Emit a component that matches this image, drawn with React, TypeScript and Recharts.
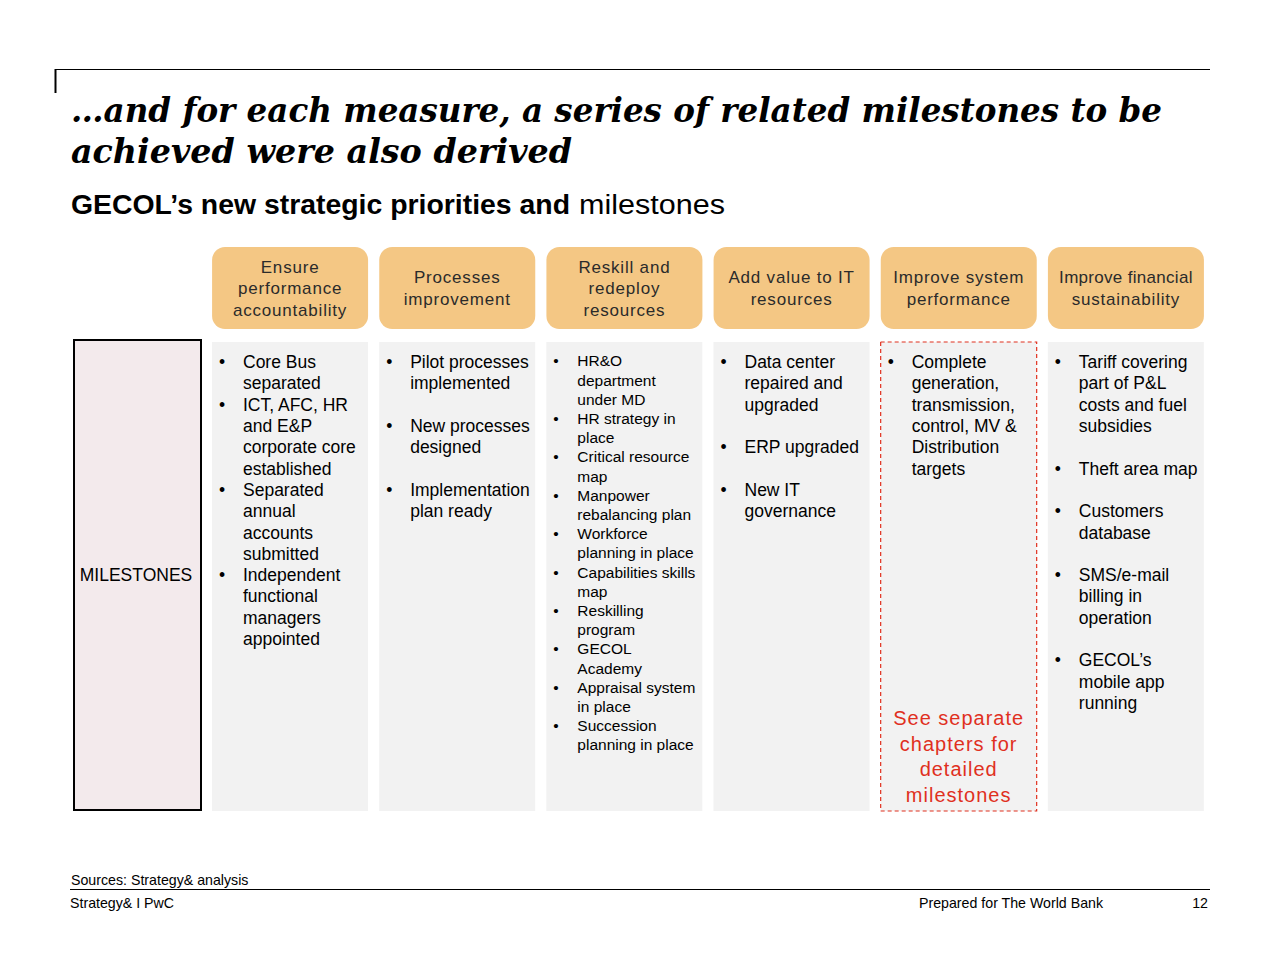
import React from 'react';
import { BarChart, Bar, XAxis, YAxis } from 'recharts';

// ---- content ----
const titleLines = [
  '\u2026and for each measure, a series of related milestones to be',
  'achieved were also derived',
];
const subtitleBold = 'GECOL\u2019s new strategic priorities and';
const subtitleRegular = 'milestones';
const rowLabel = 'MILESTONES';

const priorities = [
  'Ensure\nperformance\naccountability',
  'Processes\nimprovement',
  'Reskill and\nredeploy\nresources',
  'Add value to IT\nresources',
  'Improve system\nperformance',
  'Improve financial\nsustainability',
];

const milestones1 = [
  'Core Bus\nseparated',
  'ICT, AFC, HR\nand E&P\ncorporate core\nestablished',
  'Separated\nannual\naccounts\nsubmitted',
  'Independent\nfunctional\nmanagers\nappointed',
];
const milestones2 = ['Pilot processes\nimplemented', 'New processes\ndesigned', 'Implementation\nplan ready'];
const milestones3 = [
  'HR&O\ndepartment\nunder MD',
  'HR strategy in\nplace',
  'Critical resource\nmap',
  'Manpower\nrebalancing plan',
  'Workforce\nplanning in place',
  'Capabilities skills\nmap',
  'Reskilling\nprogram',
  'GECOL\nAcademy',
  'Appraisal system\nin place',
  'Succession\nplanning in place',
];
const milestones4 = ['Data center\nrepaired and\nupgraded', 'ERP upgraded', 'New IT\ngovernance'];
const milestones5 = ['Complete\ngeneration,\ntransmission,\ncontrol, MV &\nDistribution\ntargets'];
const milestones6 = [
  'Tariff covering\npart of P&L\ncosts and fuel\nsubsidies',
  'Theft area map',
  'Customers\ndatabase',
  'SMS/e-mail\nbilling in\noperation',
  'GECOL\u2019s\nmobile app\nrunning',
];
const milestoneLists = [milestones1, milestones2, milestones3, milestones4, milestones5, milestones6];
const spacedColumns = [false, true, false, true, false, true];
const seeSeparateNote = 'See separate\nchapters for\ndetailed\nmilestones';
const noteColumn = 4;

const sourceText = 'Sources: Strategy& analysis';
const footerLeft = 'Strategy& I PwC';
const footerMid = 'Prepared for The World Bank';
const pageNumber = '12';

const rows = priorities.map((p, i) => ({ name: p, idx: i, full: 1 }));

// ---- styles ----
const SANS = '"Liberation Sans", Arial, Helvetica, sans-serif';
const ORANGE = '#f4c784';
const GREY = '#f2f2f2';
const RED = '#e0301e';
const TEXT = '#000000';

const HeaderTick = (props: any) => {
  const { payload } = props;
  const cx = payload.coordinate;
  const lines = String(payload.value).split('\n');
  const w = 156;
  const top = 247;
  const h = 82;
  const lh = 21.5;
  const cy = top + h / 2;
  const start = cy - ((lines.length - 1) * lh) / 2;
  return (
    <g>
      <rect x={cx - w / 2} y={top} width={w} height={h} rx={13} ry={13} fill={ORANGE} />
      {lines.map((l, i) => (
        <text
          key={i}
          x={cx}
          y={start + i * lh + 6}
          textAnchor="middle"
          fontFamily={SANS}
          fontSize={17}
          letterSpacing={l.length > 16 ? 0.3 : 0.8}
          fill="#2b2b2b"
        >
          {l}
        </text>
      ))}
    </g>
  );
};

const ColumnShape = (props: any) => {
  const { x, y, width, height, payload } = props;
  const idx = payload.idx;
  const small = idx === 2;
  const fs = small ? 15.5 : 17.5;
  const lh = small ? 19.2 : 21.3;
  const items: string[] = milestoneLists[idx];
  const spaced = spacedColumns[idx];
  const out: React.ReactNode[] = [];
  let line = 0;
  const firstCenter = y + (small ? 19 : 20);
  items.forEach((it, k) => {
    const ls = it.split('\n');
    ls.forEach((l, j) => {
      const by = firstCenter + line * lh + fs * 0.35;
      if (j === 0) {
        out.push(
          <text key={`b${k}`} x={x + 7} y={by} fontFamily={SANS} fontSize={fs} fill={TEXT}>
            {'\u2022'}
          </text>
        );
      }
      out.push(
        <text key={`t${k}-${j}`} x={x + 31} y={by} fontFamily={SANS} fontSize={fs} fill={TEXT}>
          {l}
        </text>
      );
      line += 1;
    });
    if (spaced) line += 1;
  });
  const isNote = idx === noteColumn;
  const noteLines = seeSeparateNote.split('\n');
  return (
    <g>
      <rect
        x={x}
        y={y}
        width={width}
        height={height}
        fill={GREY}
        stroke={isNote ? RED : 'none'}
        strokeWidth={isNote ? 1.2 : 0}
        strokeDasharray={isNote ? '4 3' : undefined}
      />
      {out}
      {isNote &&
        noteLines.map((l, i) => (
          <text
            key={`n${i}`}
            x={x + width / 2}
            y={718 + i * 25.6 + 7}
            textAnchor="middle"
            fontFamily={SANS}
            fontSize={20}
            letterSpacing={1}
            fill={RED}
          >
            {l}
          </text>
        ))}
    </g>
  );
};

export default function App() {
  return (
    <div style={{ position: 'absolute', left: 0, top: 0, width: 1280, height: 960, background: '#fff' }}>
      <div style={{ position: 'absolute', left: 0, top: 0 }}>
        <BarChart
          width={1280}
          height={960}
          data={rows}
          margin={{ top: 247, right: 70.5, bottom: 149, left: 206.5 }}
          barCategoryGap={5.5}
        >
          <XAxis
            dataKey="name"
            orientation="top"
            height={95}
            axisLine={false}
            tickLine={false}
            interval={0}
            tick={<HeaderTick />}
          />
          <YAxis hide domain={[0, 1]} />
          <Bar dataKey="full" isAnimationActive={false} shape={<ColumnShape />} />
        </BarChart>
      </div>
      <svg
        width={1280}
        height={960}
        style={{ position: 'absolute', left: 0, top: 0, pointerEvents: 'none' }}
      >
        <line x1={55} y1={69.5} x2={1210} y2={69.5} stroke="#000" strokeWidth={1.2} />
        <line x1={55.5} y1={69} x2={55.5} y2={93} stroke="#000" strokeWidth={2} />
        <text
          x={71}
          y={122}
          fontFamily='"DejaVu Serif", serif'
          fontStyle="italic"
          fontWeight="bold"
          fontSize={34}
          textLength={1091}
          lengthAdjust="spacingAndGlyphs"
          fill="#000"
        >
          {titleLines[0]}
        </text>
        <text
          x={71}
          y={162.5}
          fontFamily='"DejaVu Serif", serif'
          fontStyle="italic"
          fontWeight="bold"
          fontSize={34}
          textLength={501}
          lengthAdjust="spacingAndGlyphs"
          fill="#000"
        >
          {titleLines[1]}
        </text>
        <text
          x={71}
          y={213.5}
          fontFamily={SANS}
          fontWeight="bold"
          fontSize={27}
          textLength={499}
          lengthAdjust="spacingAndGlyphs"
          fill="#000"
        >
          {subtitleBold}
        </text>
        <text
          x={579}
          y={213.5}
          fontFamily={SANS}
          fontSize={27}
          textLength={146}
          lengthAdjust="spacingAndGlyphs"
          fill="#000"
        >
          {subtitleRegular}
        </text>
        <rect x={74} y={340} width={127} height={470} fill="#f3eaec" stroke="#000" strokeWidth={2} />
        <text x={136} y={581} textAnchor="middle" fontFamily={SANS} fontSize={17.5} fill="#000">
          {rowLabel}
        </text>
        <text x={71} y={885} fontFamily={SANS} fontSize={14.2} fill="#000">
          {sourceText}
        </text>
        <line x1={70} y1={889.5} x2={1210} y2={889.5} stroke="#000" strokeWidth={1} />
        <text x={70} y={908} fontFamily={SANS} fontSize={14.2} fill="#000">
          {footerLeft}
        </text>
        <text x={919} y={908} fontFamily={SANS} fontSize={14.2} fill="#000">
          {footerMid}
        </text>
        <text x={1208} y={908} textAnchor="end" fontFamily={SANS} fontSize={14.2} fill="#000">
          {pageNumber}
        </text>
      </svg>
    </div>
  );
}
